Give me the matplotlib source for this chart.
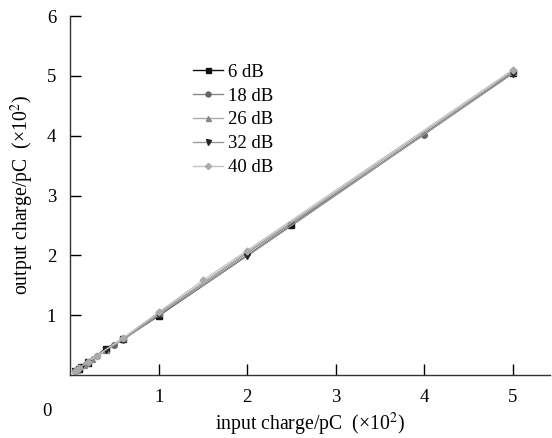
import matplotlib
matplotlib.use("Agg")
import matplotlib.pyplot as plt

plt.rcParams['font.family'] = ['Liberation Serif', 'DejaVu Serif']
plt.rcParams['mathtext.fontset'] = 'stix'

# input charge (x100 pC) and measured output charge (x100 pC) per gain setting
x_6db = [0.1, 0.2, 0.4, 0.6, 1.0, 2.5, 5.0]
y_6db = [0.1, 0.2, 0.44, 0.6, 0.99, 2.5, 5.05]
x_18db = [0.05, 0.1, 0.2, 0.3, 0.5, 1.0, 2.0, 4.0, 5.0]
y_18db = [0.06, 0.11, 0.2, 0.31, 0.5, 1.02, 2.04, 4.02, 5.08]
x_26db = [0.08, 0.16, 0.25, 0.4, 0.6, 1.0, 2.0, 5.0]
y_26db = [0.09, 0.17, 0.26, 0.41, 0.61, 1.03, 2.05, 5.07]
x_32db = [0.06, 0.12, 0.2, 0.4, 0.6, 1.0, 2.0, 5.0]
y_32db = [0.07, 0.13, 0.21, 0.42, 0.59, 1.0, 1.99, 5.04]
x_40db = [0.05, 0.1, 0.2, 0.3, 0.6, 1.0, 1.5, 2.0, 5.0]
y_40db = [0.06, 0.11, 0.22, 0.32, 0.62, 1.05, 1.58, 2.08, 5.1]

series = [
    ("6 dB", x_6db, y_6db, 's', '#111111', '#111111'),
    ("18 dB", x_18db, y_18db, 'o', '#888888', '#666666'),
    ("26 dB", x_26db, y_26db, '^', '#aaaaaa', '#888888'),
    ("32 dB", x_32db, y_32db, 'v', '#999999', '#222222'),
    ("40 dB", x_40db, y_40db, 'D', '#c4c4c4', '#aaaaaa'),
]

fig = plt.figure(figsize=(5.52, 4.38), dpi=100)
ax = fig.add_axes([0.127, 0.144, 0.869, 0.819])

for label, xs, ys, mk, lc, mc in series:
    ax.plot(xs, ys, color=lc, lw=1.0, marker=mk, ms=4 if mk != 'D' else 3.5,
            markerfacecolor=mc, markeredgecolor=mc, label=label)

ax.set_xlim(0, 5.42)
ax.set_ylim(0, 6)
ax.set_xticks([1, 2, 3, 4, 5])
ax.set_yticks([1, 2, 3, 4, 5, 6])
ax.tick_params(direction='in', length=8, width=1, labelsize=13.5, pad=10)
ax.spines['top'].set_visible(False)
ax.spines['right'].set_visible(False)
for s in ['left', 'bottom']:
    ax.spines[s].set_linewidth(1.0)
    ax.spines[s].set_color('#333333')

ax.text(-0.26, -0.62, "0", fontsize=13.5, ha='center', va='center')
ax.set_xlabel(r"input charge/pC  (×10$^2$)", fontsize=14.2, labelpad=4)
ax.set_ylabel(r"output charge/pC  (×10$^2$)", fontsize=14.2, labelpad=8)

ax.legend(loc='upper left', bbox_to_anchor=(0.22, 0.915), frameon=False,
          fontsize=13.5, handlelength=1.6, handletextpad=0.3, labelspacing=0.36,
          markerscale=0.9)

fig.savefig("out.png", dpi=100)
